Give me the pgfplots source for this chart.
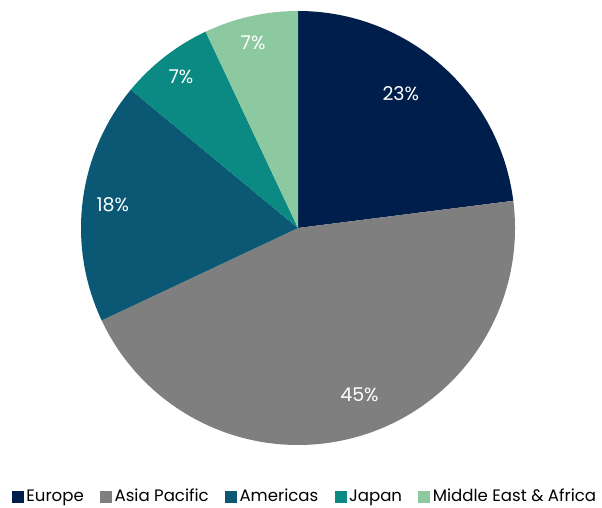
\documentclass[border=0pt]{standalone}
\usepackage{pgfplots}
\pgfplotsset{compat=1.18}
\usepackage{fontspec}
\setmainfont{Poppins}

\definecolor{eu}{HTML}{001E4B}
\definecolor{ap}{HTML}{7F7F7F}
\definecolor{am}{HTML}{0A5874}
\definecolor{jp}{HTML}{0B8A84}
\definecolor{me}{HTML}{8CC9A0}

\newcommand\pctfont{\fontsize{13.5}{15}\selectfont}
\def\rpie{5.425cm}
\def\cum{90}
% #1 share, #2 colour, #3 label distance (in radii), #4 label angle shift
\newcommand\slice[4]{%
  \pgfmathsetmacro\sa{\cum}%
  \pgfmathsetmacro\se{\cum-#1*3.6}%
  \pgfmathsetmacro\sm{(\sa+\se)/2+#4}%
  \pgfmathsetmacro\lx{#3*cos(\sm)}%
  \pgfmathsetmacro\ly{#3*sin(\sm)}%
  \edef\temp{%
    \noexpand\fill[#2] (axis cs:0,0) -- (axis cs:{cos(\sa)},{sin(\sa)})
      arc[start angle=\sa, end angle=\se, radius=\rpie] -- cycle;
    \noexpand\node[text=white, font=\noexpand\pctfont] at (axis cs:\lx,\ly) {#1\noexpand\%};
  }%
  \temp
  \global\let\cum\se
}

\begin{document}
\begin{tikzpicture}
\begin{axis}[
  scale only axis,
  width=15.05cm, height=12.7cm,
  xmin=-1.3733, xmax=1.4009,
  ymin=-1.2903, ymax=1.0507,
  hide axis,
  legend columns=5,
  legend style={at={(0.5075,0)}, anchor=south, yshift=0.02cm, draw=none,
    inner sep=0pt, font=\fontsize{11.8}{13}\selectfont,
    nodes={inner xsep=0.07cm},
    /tikz/every even column/.append style={column sep=0.34cm}},
  legend image code/.code={\fill[#1] (-0.1cm,-0.14cm) rectangle (0.175cm,0.135cm);},
]
\path (rel axis cs:0,0) rectangle (rel axis cs:1,1);
\slice{23}{eu}{0.78}{4}
\slice{45}{ap}{0.82}{4}
\slice{18}{am}{0.86}{0}
\slice{7}{jp}{0.88}{0}
\slice{7}{me}{0.88}{1}

\addlegendimage{eu}\addlegendentry{Europe}
\addlegendimage{ap}\addlegendentry{Asia Pacific}
\addlegendimage{am}\addlegendentry{Americas}
\addlegendimage{jp}\addlegendentry{Japan}
\addlegendimage{me}\addlegendentry{Middle East \& Africa}
\end{axis}
\end{tikzpicture}
\end{document}
